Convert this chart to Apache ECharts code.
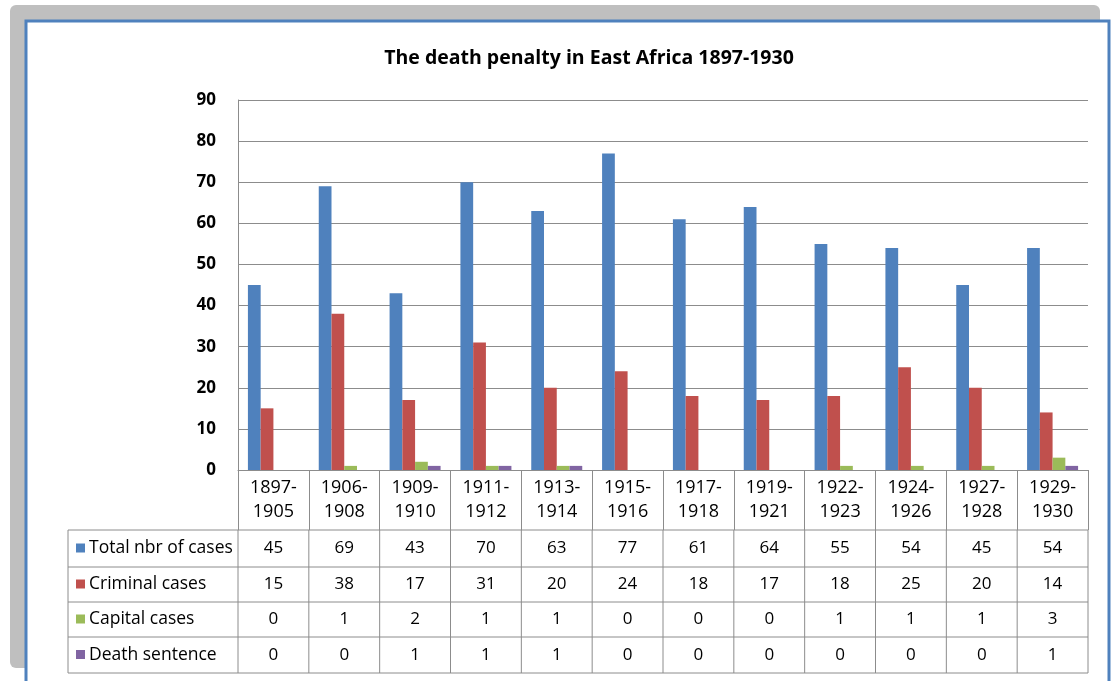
<!DOCTYPE html>
<html>
<head>
<meta charset="UTF-8">
<title>The death penalty in East Africa 1897-1930</title>
<script src="https://cdn.jsdelivr.net/npm/echarts@6/dist/echarts.min.js"></script>
<style>
  html, body { margin: 0; padding: 0; background: #fff; }
  #main { width: 1112px; height: 681px; }
</style>
</head>
<body>
<div id="main"></div>
<script>
const periods = ['1897-1905', '1906-1908', '1909-1910', '1911-1912', '1913-1914', '1915-1916',
                 '1917-1918', '1919-1921', '1922-1923', '1924-1926', '1927-1928', '1929-1930'];
const totalCases    = [45, 69, 43, 70, 63, 77, 61, 64, 55, 54, 45, 54];
const criminalCases = [15, 38, 17, 31, 20, 24, 18, 17, 18, 25, 20, 14];
const capitalCases  = [0, 1, 2, 1, 1, 0, 0, 0, 1, 1, 1, 3];
const deathSentence = [0, 0, 1, 1, 1, 0, 0, 0, 0, 0, 0, 1];
const seriesNames = ['Total nbr of cases', 'Criminal cases', 'Capital cases', 'Death sentence'];
const seriesColors = ['#4F81BD', '#C0504D', '#9BBB59', '#8064A2'];

const FONT = '"Open Sans", Lato, sans-serif';
const LINE = '#8c8c8c';
const allSeries = [totalCases, criminalCases, capitalCases, deathSentence];

const chart = echarts.init(document.getElementById('main'));

// frame behind the chart (grey band + white panel with blue border)
const frame = [
  { type: 'rect', z: -10, shape: { x: 10, y: 5, width: 1090, height: 663, r: 6 },
    style: { fill: '#bfbfbf' } },
  { type: 'rect', z: -9, shape: { x: 26, y: 21, width: 1083, height: 680 },
    style: { fill: '#fff', stroke: '#4F81BD', lineWidth: 3 } }
];

chart.setOption({
  animation: false,
  title: {
    text: 'The death penalty in East Africa 1897-1930',
    left: 584, top: 43, textAlign: 'center',
    textStyle: { fontFamily: FONT, fontSize: 19.5, fontWeight: 'bold', color: '#000' }
  },
  grid: { left: 238, right: 24, top: 100, bottom: 211 },
  xAxis: {
    type: 'category',
    data: periods,
    axisLine: { lineStyle: { color: LINE, width: 1 } },
    axisTick: { show: true, length: 60, lineStyle: { color: LINE } },
    axisLabel: {
      margin: 6, fontFamily: FONT, fontSize: 18, lineHeight: 24, color: '#000',
      formatter: v => v.replace('-', '-\n')
    }
  },
  yAxis: {
    type: 'value', min: 0, max: 90, interval: 10,
    axisLine: { show: true, lineStyle: { color: LINE } },
    axisTick: { show: false },
    axisLabel: { margin: 22, fontFamily: FONT, fontSize: 17, fontWeight: 'bold', color: '#000' },
    splitLine: { lineStyle: { color: LINE } }
  },
  series: allSeries.map((d, i) => ({
    name: seriesNames[i],
    type: 'bar',
    data: d,
    barGap: '0%',
    barCategoryGap: '28%',
    itemStyle: { color: seriesColors[i] }
  })),
  graphic: frame
});

// data table under the axis, placed from the axis scale
function buildTable() {
  const x0 = chart.convertToPixel({ xAxisIndex: 0 }, 0);
  const x1 = chart.convertToPixel({ xAxisIndex: 0 }, 1);
  const step = x1 - x0;
  const left = x0 - step / 2;
  const right = left + step * periods.length;
  const tableLeft = 68;
  const rows = [530, 567, 602, 637, 673];
  const els = frame.slice();
  rows.forEach(y => els.push({ type: 'line', shape: { x1: tableLeft, y1: y, x2: right, y2: y },
    style: { stroke: LINE, lineWidth: 1 } }));
  els.push({ type: 'line', shape: { x1: tableLeft, y1: rows[0], x2: tableLeft, y2: rows[4] },
    style: { stroke: LINE, lineWidth: 1 } });
  for (let c = 0; c <= periods.length; c++) {
    const x = left + step * c;
    els.push({ type: 'line', shape: { x1: x, y1: rows[0], x2: x, y2: rows[4] },
      style: { stroke: LINE, lineWidth: 1 } });
  }
  allSeries.forEach((d, r) => {
    const cy = (rows[r] + rows[r + 1]) / 2;
    els.push({ type: 'rect', shape: { x: 76, y: cy - 5, width: 9, height: 9 },
      style: { fill: seriesColors[r] } });
    els.push({ type: 'text', x: 89, y: cy, style: { text: seriesNames[r], fill: '#000',
      font: '17.5px ' + FONT, textVerticalAlign: 'middle', textAlign: 'left' } });
    d.forEach((v, c) => {
      els.push({ type: 'text', x: chart.convertToPixel({ xAxisIndex: 0 }, c), y: cy,
        style: { text: String(v), fill: '#000', font: '17px ' + FONT,
          textAlign: 'center', textVerticalAlign: 'middle' } });
    });
  });
  chart.setOption({ graphic: els }, { replaceMerge: ['graphic'] });
}
buildTable();
</script>
</body>
</html>
